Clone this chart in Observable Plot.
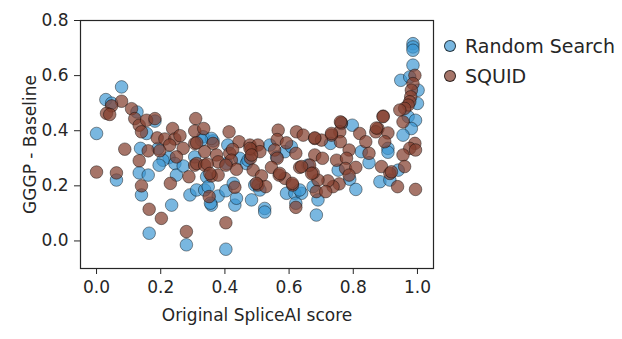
<!DOCTYPE html>
<html>
<head>
<meta charset="utf-8">
<script src="https://cdn.jsdelivr.net/npm/d3@7"></script>
<script src="https://cdn.jsdelivr.net/npm/@observablehq/plot@0.6"></script>
<style>
  html, body { margin: 0; padding: 0; background: #fff; }
  #wrap { position: relative; width: 622px; height: 339px; }
  #legend { position: absolute; left: 441px; top: 31px; font-family: "DejaVu Sans", sans-serif; font-size: 19px; color: #262626; }
  .item { display: flex; align-items: center; height: 30px; }
  .sw { width: 12px; height: 12px; border-radius: 50%; margin-left: 3px; margin-right: 9px; border: 0.6px solid rgba(0,0,0,0.7); box-sizing: border-box; }
</style>
</head>
<body>
<div id="wrap"></div>
<script>
const seriesNames = ["Random Search", "SQUID"];
const seriesColors = ["#3a95d2", "#83402f"];
const xTicks = [0, 0.2, 0.4, 0.6, 0.8, 1.0];
const yTicks = [0, 0.2, 0.4, 0.6, 0.8];

// Random Search: [Original SpliceAI score, GGGP - Baseline]
const randomSearch = [
  [0.00,0.39],[0.078,0.559],[0.029,0.513],[0.047,0.50],[0.126,0.468],[0.156,0.39],[0.182,0.435],
  [0.332,0.378],[0.363,0.363],[0.409,0.348],[0.226,0.303],[0.244,0.281],[0.207,0.293],[0.195,0.275],
  [0.306,0.305],[0.137,0.336],[0.192,0.336],[0.133,0.247],[0.161,0.239],[0.062,0.221],[0.14,0.167],
  [0.249,0.239],[0.27,0.272],[0.291,0.167],[0.312,0.185],[0.234,0.13],[0.164,0.028],[0.28,-0.014],
  [0.403,-0.03],[0.358,0.13],[0.379,0.163],[0.403,0.182],[0.431,0.13],[0.436,0.155],[0.483,0.149],
  [0.493,0.203],[0.358,0.372],[0.446,0.30],[0.337,0.185],[0.355,0.137],[0.509,0.185],[0.524,0.118],
  [0.524,0.105],[0.587,0.324],[0.592,0.173],[0.618,0.173],[0.639,0.173],[0.621,0.137],[0.797,0.42],
  [0.763,0.426],[0.908,0.336],[0.825,0.324],[0.849,0.284],[0.729,0.354],[0.753,0.257],[0.789,0.224],
  [0.808,0.187],[0.675,0.197],[0.685,0.094],[0.883,0.215],[0.914,0.221],[0.633,0.185],[0.986,0.716],
  [0.986,0.704],[0.986,0.692],[0.986,0.638],[0.948,0.583],[0.976,0.595],[1.002,0.547],[1.0,0.499],
  [0.971,0.451],[0.994,0.438],[0.981,0.408],[0.955,0.384],[0.94,0.257],[0.561,0.305],[0.69,0.149],
  [0.908,0.322],[0.327,0.366],[0.343,0.233],[0.348,0.197],[0.405,0.281],[0.426,0.209],[0.467,0.281],
  [0.472,0.293],[0.54,0.348],[0.607,0.342],[0.659,0.275]
];

// SQUID: [Original SpliceAI score, GGGP - Baseline]
const squid = [
  [0.0,0.25],[0.078,0.507],[0.047,0.49],[0.031,0.463],[0.041,0.459],[0.109,0.48],[0.119,0.444],
  [0.133,0.42],[0.14,0.396],[0.156,0.438],[0.182,0.444],[0.189,0.374],[0.213,0.37],[0.237,0.408],
  [0.244,0.37],[0.26,0.382],[0.309,0.444],[0.306,0.399],[0.334,0.408],[0.413,0.396],[0.444,0.36],
  [0.478,0.348],[0.088,0.333],[0.27,0.336],[0.249,0.305],[0.228,0.348],[0.306,0.354],[0.306,0.275],
  [0.161,0.327],[0.197,0.327],[0.133,0.291],[0.062,0.247],[0.14,0.20],[0.23,0.209],[0.288,0.233],
  [0.164,0.115],[0.202,0.082],[0.28,0.034],[0.403,0.066],[0.351,0.161],[0.431,0.195],[0.312,0.281],
  [0.337,0.275],[0.312,0.356],[0.363,0.354],[0.337,0.324],[0.374,0.312],[0.379,0.287],[0.345,0.279],
  [0.415,0.318],[0.424,0.332],[0.42,0.293],[0.436,0.26],[0.403,0.275],[0.358,0.236],[0.483,0.332],
  [0.48,0.30],[0.503,0.348],[0.509,0.324],[0.488,0.257],[0.514,0.236],[0.503,0.203],[0.527,0.197],
  [0.566,0.402],[0.563,0.368],[0.592,0.356],[0.555,0.33],[0.563,0.30],[0.545,0.267],[0.587,0.227],
  [0.569,0.239],[0.611,0.203],[0.621,0.122],[0.623,0.396],[0.644,0.384],[0.621,0.318],[0.633,0.267],
  [0.893,0.453],[0.877,0.408],[0.908,0.392],[0.898,0.36],[0.87,0.396],[0.763,0.429],[0.758,0.396],
  [0.82,0.39],[0.839,0.36],[0.849,0.318],[0.76,0.36],[0.787,0.33],[0.732,0.384],[0.68,0.372],
  [0.701,0.366],[0.68,0.312],[0.704,0.30],[0.748,0.293],[0.779,0.30],[0.776,0.263],[0.808,0.267],
  [0.787,0.239],[0.756,0.207],[0.737,0.197],[0.721,0.218],[0.69,0.221],[0.675,0.247],[0.664,0.275],
  [0.685,0.179],[0.714,0.179],[0.888,0.27],[0.914,0.245],[0.639,0.27],[0.992,0.601],[0.986,0.571],
  [0.981,0.547],[0.979,0.523],[0.976,0.505],[0.971,0.493],[0.96,0.481],[0.945,0.475],[0.955,0.432],
  [0.992,0.354],[0.976,0.336],[0.994,0.33],[0.955,0.312],[0.96,0.27],[0.919,0.251],[0.938,0.197],
  [0.994,0.187],[0.498,0.209],[0.61,0.209],[0.571,0.245],[0.67,0.245],[0.478,0.336],[0.483,0.312],
  [0.379,0.239],[0.353,0.245],[0.68,0.374],[0.732,0.39],[0.76,0.432],[0.872,0.41],[0.893,0.451]
];

const rows = [
  ...randomSearch.map(([x, y]) => ({x, y, s: seriesNames[0]})),
  ...squid.map(([x, y]) => ({x, y, s: seriesNames[1]}))
];

const font = {fontFamily: "DejaVu Sans, sans-serif", fontSize: "17px", color: "#262626", background: "#fff"};

const chart = Plot.plot({
  width: 622,
  height: 339,
  marginLeft: 80,
  marginRight: 189,
  marginTop: 20,
  marginBottom: 71,
  style: font,
  x: {domain: [-0.05, 1.05]},
  y: {domain: [-0.1, 0.8]},
  color: {domain: seriesNames, range: seriesColors},
  marks: [
    Plot.dot(rows.filter(d => d.s === seriesNames[0]), {x: "x", y: "y", r: 6.3, fill: "s", fillOpacity: 0.68, stroke: "#000", strokeOpacity: 0.7, strokeWidth: 0.6}),
    Plot.dot(rows.filter(d => d.s === seriesNames[1]), {x: "x", y: "y", r: 6.3, fill: "s", fillOpacity: 0.72, stroke: "#000", strokeOpacity: 0.7, strokeWidth: 0.6}),
    Plot.frame({stroke: "#262626", strokeWidth: 1.2}),
    Plot.axisX({ticks: xTicks, tickFormat: d3.format(".1f"), tickSize: 6, tickPadding: 6, label: "Original SpliceAI score", labelAnchor: "center", labelArrow: "none", labelOffset: 52, stroke: "#262626"}),
    Plot.axisY({ticks: yTicks, tickFormat: d3.format(".1f"), tickSize: 6, tickPadding: 6, label: "GGGP - Baseline", labelAnchor: "center", labelOffset: 57, labelArrow: "none", stroke: "#262626"})
  ]
});

const wrap = document.getElementById("wrap");
wrap.appendChild(chart);
const legend = document.createElement("div");
legend.id = "legend";
seriesNames.forEach((name, i) => {
  const item = document.createElement("div");
  item.className = "item";
  const sw = document.createElement("span");
  sw.className = "sw";
  sw.style.background = d3.color(seriesColors[i]).copy({opacity: i === 0 ? 0.68 : 0.72}).formatRgb();
  const t = document.createElement("span");
  t.textContent = name;
  item.appendChild(sw);
  item.appendChild(t);
  legend.appendChild(item);
});
wrap.appendChild(legend);
</script>
</body>
</html>
